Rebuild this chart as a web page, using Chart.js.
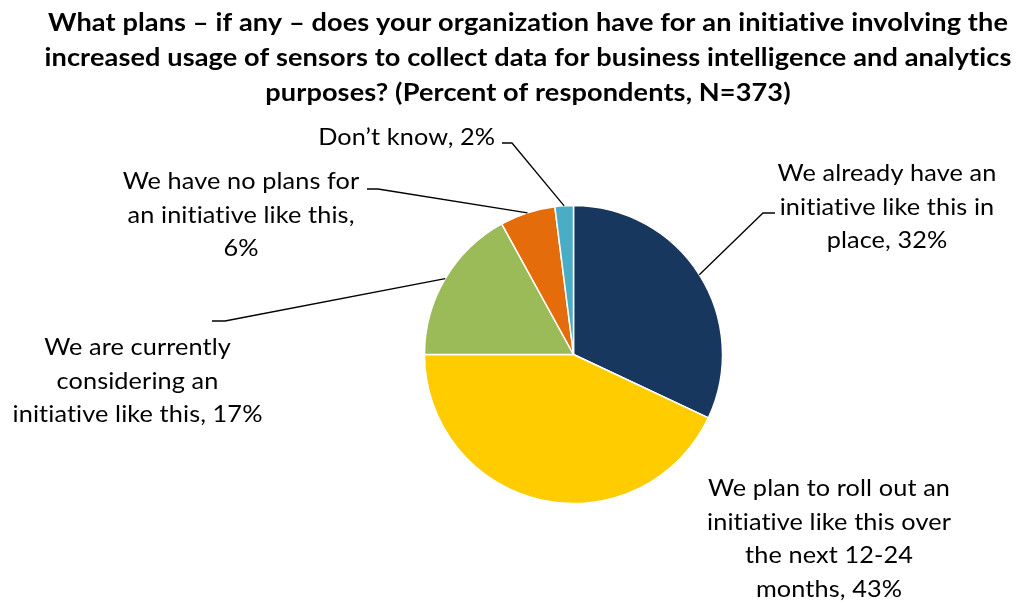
<!DOCTYPE html>
<html><head><meta charset="utf-8">
<script src="https://cdn.jsdelivr.net/npm/chart.js@4/dist/chart.umd.min.js"></script>
<style>html,body{margin:0;padding:0;background:#fff;overflow:hidden}#wrap{width:1018px;height:604px;position:relative}</style>
</head><body><div id="wrap"><canvas id="c"></canvas></div>
<script>
// ---- data ----
const titleLines = [
  "What plans \u2013 if any \u2013 does your organization have for an initiative involving the",
  "increased usage of sensors to collect data for business intelligence and analytics",
  "purposes? (Percent of respondents, N=373)"
];
const categories = [
  ["We already have an", "initiative like this in", "place, 32%"],
  ["We plan to roll out an", "initiative like this over", "the next 12-24", "months, 43%"],
  ["We are currently", "considering an", "initiative like this, 17%"],
  ["We have no plans for", "an initiative like this,", "6%"],
  ["Don\u2019t know, 2%"]
];
const values = [32, 43, 17, 6, 2];

// ---- styles / layout ----
const colors = ["#17375E", "#FFCC00", "#9BBB59", "#E46C0A", "#4BACC6"];
// label anchor: centre x, first baseline y
const labelPos = [
  {cx: 887, by: 181},
  {cx: 829, by: 496},
  {cx: 137.5, by: 355},
  {cx: 241, by: 189},
  {cx: 406.7, by: 145}
];
// leader: horizontal from x0 to elbow x1 at y, then to slice edge (null = no leader)
const leaders = [
  {x0: 775, x1: 763, y: 213},
  null,
  {x0: 212, x1: 225, y: 321},
  {x0: 367, x1: 378, y: 189},
  {x0: 502, x1: 512, y: 143}
];
const LINE_H = 33.5;
const LABEL_FONT = "24px Lato";
const TITLE_FONT = "bold 24.5px Lato";

function drawScaled(ctx, text, cx, by, sx) {
  ctx.save();
  ctx.translate(cx, by);
  ctx.scale(sx, 1);
  ctx.textAlign = "center";
  ctx.textBaseline = "alphabetic";
  ctx.fillText(text, 0, 0);
  ctx.restore();
}

const annot = {
  id: "annot",
  afterDatasetsDraw(chart) {
    const ctx = chart.ctx;
    const meta = chart.getDatasetMeta(0);
    ctx.save();
    // leaders
    ctx.strokeStyle = "#000";
    ctx.lineWidth = 1.3;
    meta.data.forEach((arc, i) => {
      const L = leaders[i];
      if (!L) return;
      const p = arc.getProps(["x", "y", "startAngle", "endAngle", "outerRadius"], true);
      const mid = (p.startAngle + p.endAngle) / 2;
      const ex = p.x + Math.cos(mid) * p.outerRadius;
      const ey = p.y + Math.sin(mid) * p.outerRadius;
      ctx.beginPath();
      ctx.moveTo(L.x0, L.y);
      ctx.lineTo(L.x1, L.y);
      ctx.lineTo(ex, ey);
      ctx.stroke();
    });
    // labels
    if ("letterSpacing" in ctx) ctx.letterSpacing = "0.1px";
    ctx.fillStyle = "#000";
    ctx.font = LABEL_FONT;
    const lsx = 177 / ctx.measureText("Don\u2019t know, 2%").width;
    categories.forEach((lines, i) => {
      const pos = labelPos[i];
      lines.forEach((t, j) => drawScaled(ctx, t, pos.cx, pos.by + j * LINE_H, lsx));
    });
    // title
    ctx.font = TITLE_FONT;
    const tsx = 960 / ctx.measureText(titleLines[0]).width;
    const tby = [31, 66, 101];
    titleLines.forEach((t, j) => drawScaled(ctx, t, 528, tby[j], tsx));
    ctx.restore();
  }
};

new Chart(document.getElementById("c"), {
  type: "pie",
  data: {
    labels: categories.map(l => l.join(" ")),
    datasets: [{
      data: values,
      backgroundColor: colors,
      borderColor: "#ffffff",
      borderWidth: 1.5
    }]
  },
  options: {
    responsive: true,
    maintainAspectRatio: false,
    animation: false,
    radius: 149,
    layout: {padding: {left: 413.5, right: 284.5, top: 194.5, bottom: 89.5}},
    plugins: {legend: {display: false}, tooltip: {enabled: false}, title: {display: false}}
  },
  plugins: [annot]
});
</script>
</body></html>
